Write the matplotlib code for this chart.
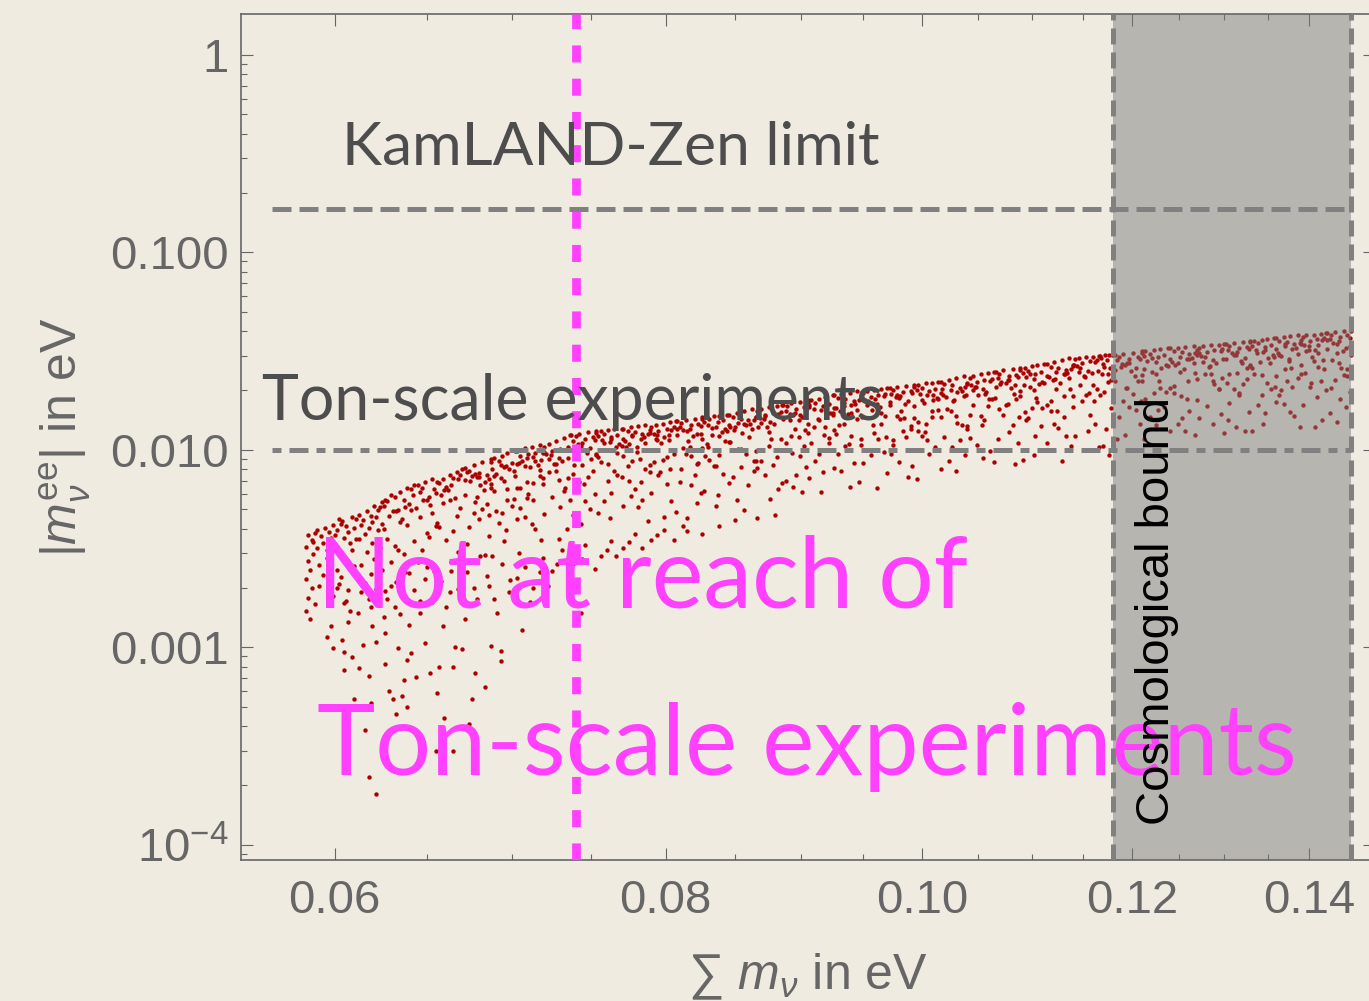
import matplotlib
matplotlib.use("Agg")
import matplotlib.pyplot as plt
from matplotlib.ticker import FixedLocator, NullFormatter, LogLocator

plt.rcParams['font.family'] = ['Liberation Sans', 'DejaVu Sans']
plt.rcParams['mathtext.fontset'] = 'custom'
plt.rcParams['mathtext.rm'] = 'Liberation Sans'
plt.rcParams['mathtext.it'] = 'Liberation Sans:italic'
plt.rcParams['mathtext.bf'] = 'Liberation Sans:bold'

# scan points: sum of neutrino masses (eV) and |m_ee| (eV), one line per strip in sum
sum_left = [
    .0586, .0591, .0588, .0595, .0585, .0593, .0597, .0589, .0586, .0594, .0590, .0596, .0587, .0592, .0585, .0598, .0588, .0594, .0586, .0590, .0585, .0587, .0592, .0596, .0589, .0591,
    .0599, .0604, .0601, .0609, .0606, .0600, .0611, .0603, .0607, .0610, .0602, .0605, .0608, .0600, .0611, .0604, .0606, .0609, .0601, .0603, .0610, .0607, .0599, .0605, .0602, .0608,
    .0613, .0617, .0621, .0625, .0615, .0619, .0623, .0614, .0620, .0624, .0618, .0622, .0616, .0625, .0613, .0620, .0623, .0617, .0621, .0614, .0624, .0619, .0616, .0622, .0618, .0625,
    .0628, .0632, .0635, .0639, .0626, .0637, .0630, .0634, .0640, .0627, .0633, .0638, .0629, .0636, .0631, .0639, .0626, .0635, .0628, .0632, .0637, .0630, .0634, .0640, .0633, .0627,
    .0641, .0645, .0649, .0653, .0655, .0647, .0643, .0651, .0646, .0654, .0650, .0642, .0652, .0644, .0648, .0653, .0646, .0641, .0655, .0650, .0643, .0647, .0651, .0645, .0654, .0649,
    .0659, .0663, .0667, .0670, .0657, .0665, .0669, .0661, .0656, .0668, .0660, .0664, .0658, .0666, .0662, .0659, .0669, .0663, .0667, .0656, .0665, .0661, .0657, .0668, .0670, .0664,
    .0672, .0677, .0682, .0687, .0674, .0680, .0685, .0673, .0679, .0686, .0678, .0684, .0676, .0681, .0687, .0672, .0679, .0685, .0677, .0682, .0674, .0680, .0686, .0673, .0684, .0678,
    .0689, .0694, .0697, .0702, .0687, .0700, .0692, .0696, .0703, .0688, .0695, .0701, .0690, .0698, .0693, .0702, .0687, .0697, .0689, .0694, .0700, .0692, .0696, .0703, .0695, .0688,
    .0703, .0708, .0712, .0717, .0719, .0710, .0705, .0714, .0709, .0718, .0713, .0704, .0716, .0706, .0711, .0717, .0709, .0703, .0719, .0713, .0705, .0710, .0714, .0708, .0718, .0712,
    .0723, .0727, .0732, .0736, .0720, .0730, .0735, .0725, .0719, .0734, .0724, .0729, .0721, .0731, .0726, .0723, .0735, .0727, .0732, .0719, .0730, .0725, .0720, .0734, .0736, .0729,
    .0737, .0742, .0748, .0753, .0740, .0746, .0751, .0738, .0744, .0752, .0743, .0749, .0741, .0747, .0753, .0737, .0744, .0751, .0742, .0748, .0740, .0746, .0752, .0738, .0749, .0743,
    .0756, .0761, .0765, .0770, .0753, .0767, .0758, .0763, .0771, .0754, .0762, .0768, .0757, .0766, .0759, .0770, .0753, .0765, .0756, .0761, .0767, .0758, .0763, .0771, .0762, .0754,
    .0771, .0776, .0781, .0786, .0789, .0779, .0774, .0784, .0777, .0788, .0783, .0772, .0785, .0775, .0780, .0786, .0777, .0771, .0789, .0783, .0774, .0779, .0784, .0776, .0788, .0781,
]
mee_left = [
    .00371, .00392, .00350, .00401, .00322, .00366, .00385, .00298, .00275, .00337, .00381, .00312, .00248, .00260, .00222, .00358, .00199, .00232, .00178, .00166, .00152, .00139, .00205, .00285, .00343, .00318,
    .00415, .00436, .00392, .00458, .00410, .00372, .00445, .00421, .00385, .00402, .00447, .00360, .00339, .00318, .00352, .00296, .00270, .00312, .00247, .00226, .00259, .00195, .00183, .00167, .00209, .00152,
    .00468, .00489, .00521, .00548, .00440, .00462, .00497, .00417, .00430, .00512, .00401, .00455, .00376, .00420, .00352, .00338, .00391, .00305, .00281, .00262, .00320, .00236, .00212, .00197, .00176, .00248,
    .00553, .00578, .00612, .00641, .00521, .00560, .00590, .00496, .00530, .00558, .00488, .00512, .00462, .00447, .00490, .00418, .00397, .00430, .00352, .00325, .00298, .00270, .00312, .00238, .00215, .00194,
    .00637, .00662, .00689, .00712, .00605, .00641, .00665, .00580, .00612, .00635, .00558, .00590, .00527, .00510, .00560, .00482, .00455, .00495, .00410, .00378, .00345, .00312, .00362, .00272, .00245, .00221,
    .00716, .00745, .00772, .00802, .00681, .00720, .00748, .00652, .00690, .00715, .00628, .00662, .00592, .00572, .00630, .00541, .00510, .00555, .00462, .00425, .00388, .00351, .00405, .00305, .00272, .00243,
    .00810, .00840, .00872, .00902, .00785, .00763, .00748, .00774, .00726, .00712, .00755, .00690, .00736, .00668, .00642, .00701, .00575, .00535, .00478, .00502, .00405, .00446, .00365, .00332, .00292, .00275,
    .00905, .00935, .00962, .00990, .00872, .00858, .00880, .00831, .00846, .00805, .00817, .00779, .00752, .00796, .00724, .00741, .00673, .00555, .00619, .00482, .00519, .00428, .00391, .00446, .00346, .00291,
    .00992, .0102, .0104, .0106, .00975, .00948, .00931, .00962, .00905, .00889, .00918, .00860, .00842, .00876, .00815, .00787, .00690, .00640, .00720, .00560, .00510, .00600, .00400, .00460, .00350, .00420,
    .0107, .0111, .0115, .0119, .0104, .0101, .0103, .00985, .00962, .00997, .00938, .00912, .00955, .00880, .00851, .00896, .00717, .00781, .00621, .00674, .00514, .00578, .00471, .00396, .00556, .00353,
    .0119, .0121, .0123, .0125, .0117, .0114, .0116, .0111, .0108, .0112, .0105, .0102, .0107, .00985, .00951, .00998, .00840, .00780, .00684, .00732, .00624, .00552, .00600, .00468, .00504, .00420,
    .0125, .0126, .0127, .0128, .0122, .0119, .0121, .0116, .0113, .0117, .0110, .0107, .0112, .0104, .0100, .0105, .00945, .00781, .00869, .00693, .00743, .00554, .00605, .00517, .00454, .00479,
    .0128, .0130, .0132, .0134, .0126, .0123, .0125, .0120, .0117, .0121, .0114, .0111, .0116, .0107, .0103, .0109, .00877, .00929, .00774, .00684, .00826, .00632, .00555, .00581, .00439, .00516,
]

sum_mid = [
    .0793, .0798, .0803, .0807, .0790, .0801, .0806, .0795, .0789, .0804, .0794, .0799, .0792, .0802, .0797, .0793, .0806, .0798, .0803, .0789, .0801, .0795, .0790, .0804, .0807, .0799,
    .0808, .0814, .0821, .0826, .0811, .0818, .0823, .0810, .0817, .0825, .0815, .0822, .0812, .0819, .0826, .0808, .0817, .0823, .0814, .0821, .0811, .0818, .0825, .0810, .0822, .0815,
    .0829, .0834, .0838, .0844, .0826, .0841, .0831, .0837, .0845, .0827, .0836, .0842, .0830, .0840, .0833, .0844, .0826, .0838, .0829, .0834, .0841, .0831, .0837, .0845, .0836, .0827,
    .0845, .0851, .0856, .0862, .0865, .0854, .0848, .0859, .0852, .0864, .0858, .0846, .0861, .0849, .0855, .0862, .0852, .0845, .0865, .0858, .0848, .0854, .0859, .0851, .0864, .0856,
    .0869, .0875, .0881, .0885, .0866, .0878, .0884, .0872, .0865, .0882, .0871, .0876, .0868, .0879, .0874, .0869, .0884, .0875, .0881, .0865, .0878, .0872, .0866, .0882, .0885, .0876,
    .0886, .0892, .0899, .0905, .0889, .0896, .0902, .0888, .0895, .0904, .0894, .0901, .0891, .0898, .0905, .0886, .0895, .0902, .0892, .0899, .0889, .0896, .0904, .0888, .0901, .0894,
    .0908, .0914, .0919, .0925, .0905, .0922, .0911, .0917, .0926, .0906, .0916, .0923, .0910, .0920, .0913, .0925, .0905, .0919, .0908, .0914, .0922, .0911, .0917, .0926, .0916, .0906,
    .0926, .0932, .0939, .0945, .0948, .0935, .0929, .0942, .0934, .0946, .0940, .0928, .0943, .0931, .0937, .0945, .0934, .0926, .0948, .0940, .0929, .0935, .0942, .0932, .0946, .0939,
    .0953, .0959, .0965, .0970, .0950, .0962, .0968, .0956, .0948, .0967, .0954, .0961, .0951, .0964, .0957, .0953, .0968, .0959, .0965, .0948, .0962, .0956, .0950, .0967, .0970, .0961,
    .0972, .0978, .0986, .0993, .0975, .0983, .0990, .0973, .0981, .0991, .0980, .0988, .0977, .0985, .0993, .0972, .0981, .0990, .0978, .0986, .0975, .0983, .0991, .0973, .0988, .0980,
    .0996, .1003, .1008, .1014, .0993, .1011, .1000, .1006, .1016, .0995, .1004, .1013, .0998, .1009, .1001, .1014, .0993, .1008, .0996, .1003, .1011, .1000, .1006, .1016, .1004, .0995,
    .1016, .1023, .1030, .1037, .1040, .1026, .1019, .1033, .1025, .1038, .1031, .1018, .1035, .1021, .1028, .1037, .1025, .1016, .1040, .1031, .1019, .1026, .1033, .1023, .1038, .1030,
    .1045, .1052, .1059, .1064, .1042, .1055, .1062, .1049, .1040, .1061, .1047, .1054, .1043, .1057, .1050, .1045, .1062, .1052, .1059, .1040, .1055, .1049, .1042, .1061, .1064, .1054,
    .1066, .1073, .1082, .1089, .1069, .1078, .1085, .1068, .1077, .1087, .1075, .1084, .1071, .1080, .1089, .1066, .1077, .1085, .1073, .1082, .1069, .1078, .1087, .1068, .1084, .1075,
    .1093, .1100, .1105, .1112, .1089, .1109, .1096, .1103, .1114, .1091, .1102, .1110, .1094, .1107, .1098, .1112, .1089, .1105, .1093, .1100, .1109, .1096, .1103, .1114, .1102, .1091,
    .1114, .1121, .1129, .1136, .1140, .1125, .1118, .1133, .1123, .1138, .1131, .1116, .1134, .1120, .1127, .1136, .1123, .1114, .1140, .1131, .1118, .1125, .1133, .1121, .1138, .1129,
    .1146, .1153, .1160, .1166, .1142, .1157, .1164, .1149, .1140, .1162, .1147, .1155, .1144, .1159, .1151, .1146, .1164, .1153, .1160, .1140, .1157, .1149, .1142, .1162, .1166, .1155,
    .1167, .1172, .1176, .1179, .1168, .1174, .1170, .1177, .1169, .1175, .1171, .1178, .1173, .1170, .1176,
]
mee_mid = [
    .0134, .0136, .0138, .0140, .0131, .0128, .0130, .0125, .0122, .0126, .0119, .0116, .0121, .0112, .0108, .0114, .00959, .00891, .00797, .00837, .00675, .00743, .00608, .00554, .00486, .00459,
    .0140, .0142, .0144, .0147, .0137, .0134, .0136, .0131, .0127, .0132, .0124, .0121, .0126, .0117, .0113, .0119, .0104, .00860, .00959, .00747, .00804, .00663, .00606, .00691, .00536, .00451,
    .0147, .0148, .0149, .0150, .0144, .0141, .0143, .0138, .0134, .0139, .0131, .0127, .0133, .0123, .0119, .0125, .0102, .00947, .0107, .00829, .00755, .00888, .00592, .00681, .00518, .00622,
    .0150, .0154, .0157, .0161, .0147, .0144, .0146, .0141, .0137, .0142, .0134, .0130, .0136, .0126, .0122, .0128, .0101, .0110, .00876, .00951, .00725, .00815, .00664, .00559, .00785, .00498,
    .0161, .0164, .0166, .0169, .0158, .0154, .0156, .0151, .0147, .0152, .0143, .0139, .0145, .0135, .0130, .0137, .0113, .0105, .00923, .00988, .00842, .00745, .00810, .00632, .00680, .00567,
    .0169, .0172, .0175, .0179, .0166, .0162, .0164, .0158, .0154, .0160, .0150, .0146, .0152, .0141, .0136, .0143, .0128, .0105, .0117, .00935, .0100, .00748, .00816, .00697, .00612, .00646,
    .0179, .0182, .0186, .0189, .0175, .0171, .0173, .0167, .0163, .0169, .0159, .0154, .0161, .0149, .0144, .0151, .0122, .0130, .0108, .00954, .0115, .00882, .00774, .00810, .00612, .00720,
    .0189, .0192, .0195, .0198, .0185, .0181, .0183, .0177, .0172, .0178, .0168, .0163, .0170, .0157, .0152, .0160, .0136, .0126, .0113, .0118, .00955, .0105, .00860, .00783, .00688, .00649,
    .0198, .0200, .0203, .0205, .0194, .0189, .0192, .0185, .0180, .0187, .0176, .0171, .0178, .0165, .0160, .0168, .0148, .0122, .0136, .0106, .0114, .00940, .00860, .00980, .00760, .00640,
    .0205, .0208, .0211, .0214, .0201, .0196, .0199, .0192, .0187, .0194, .0183, .0177, .0185, .0171, .0166, .0174, .0143, .0132, .0149, .0116, .0106, .0124, .00828, .00952, .00725, .00869,
    .0214, .0217, .0219, .0222, .0209, .0204, .0207, .0199, .0194, .0201, .0189, .0184, .0192, .0178, .0172, .0180, .0145, .0158, .0125, .0136, .0104, .0117, .00950, .00799, .0112, .00713,
    .0222, .0227, .0232, .0237, .0217, .0212, .0215, .0207, .0202, .0209, .0196, .0190, .0199, .0185, .0178, .0187, .0157, .0146, .0128, .0137, .0116, .0103, .0112, .00874, .00941, .00784,
    .0238, .0242, .0245, .0248, .0232, .0226, .0229, .0221, .0215, .0223, .0209, .0203, .0212, .0197, .0190, .0200, .0180, .0149, .0166, .0132, .0142, .0106, .0115, .00984, .00864, .00912,
    .0249, .0253, .0257, .0261, .0243, .0237, .0240, .0231, .0225, .0234, .0219, .0212, .0222, .0206, .0199, .0209, .0171, .0181, .0151, .0133, .0161, .0123, .0108, .0113, .00853, .0100,
    .0261, .0265, .0269, .0273, .0255, .0249, .0252, .0243, .0236, .0245, .0229, .0222, .0233, .0216, .0208, .0219, .0187, .0174, .0155, .0163, .0132, .0145, .0118, .0108, .00947, .00894,
    .0273, .0280, .0286, .0292, .0267, .0261, .0264, .0255, .0248, .0257, .0241, .0233, .0245, .0227, .0218, .0230, .0204, .0168, .0187, .0146, .0157, .0129, .0118, .0135, .0105, .00880,
    .0292, .0295, .0297, .0299, .0288, .0281, .0285, .0275, .0268, .0278, .0261, .0252, .0265, .0245, .0236, .0249, .0204, .0189, .0212, .0165, .0150, .0177, .0118, .0136, .0103, .0124,
    .0299, .0301, .0303, .0304, .0291, .0284, .0272, .0259, .0243, .0222, .0196, .0163, .0128, .0105, .00940,
]

# points inside the cosmologically excluded strip
sum_grey = [
    .1182, .1191, .1201, .1210, .1186, .1197, .1206, .1184, .1195, .1208, .1193, .1204, .1189, .1199, .1210, .1182, .1195, .1206, .1191, .1201, .1186, .1197, .1208, .1184, .1204, .1193,
    .1214, .1223, .1229, .1238, .1210, .1234, .1219, .1227, .1240, .1212, .1225, .1236, .1216, .1231, .1221, .1238, .1210, .1229, .1214, .1223, .1234, .1219, .1227, .1240, .1225, .1212,
    .1240, .1249, .1257, .1266, .1270, .1253, .1244, .1261, .1251, .1268, .1259, .1242, .1264, .1246, .1255, .1266, .1251, .1240, .1270, .1259, .1244, .1253, .1261, .1249, .1268, .1257,
    .1276, .1285, .1294, .1300, .1272, .1289, .1298, .1281, .1270, .1296, .1279, .1287, .1274, .1291, .1283, .1276, .1298, .1285, .1294, .1270, .1289, .1281, .1272, .1296, .1300, .1287,
    .1302, .1311, .1321, .1330, .1306, .1317, .1326, .1304, .1315, .1328, .1313, .1324, .1309, .1319, .1330, .1302, .1315, .1326, .1311, .1321, .1306, .1317, .1328, .1304, .1324, .1313,
    .1334, .1343, .1349, .1358, .1330, .1354, .1339, .1347, .1360, .1332, .1345, .1356, .1336, .1351, .1341, .1358, .1330, .1349, .1334, .1343, .1354, .1339, .1347, .1360, .1345, .1332,
    .1360, .1369, .1377, .1386, .1390, .1373, .1364, .1381, .1371, .1388, .1379, .1362, .1384, .1366, .1375, .1386, .1371, .1360, .1390, .1379, .1364, .1373, .1381, .1369, .1388, .1377,
    .1396, .1405, .1414, .1420, .1392, .1409, .1418, .1401, .1390, .1416, .1399, .1407, .1394, .1411, .1403, .1396, .1418, .1405, .1414, .1390, .1409, .1401, .1392, .1416, .1420, .1407,
    .1422, .1431, .1443, .1452, .1427, .1438, .1447, .1425, .1436, .1450, .1434, .1445, .1429, .1441, .1452, .1422, .1436, .1447, .1431, .1443, .1427, .1438, .1450, .1425, .1445, .1434,
]
mee_grey = [
    .0303, .0307, .0311, .0315, .0297, .0290, .0294, .0284, .0276, .0287, .0268, .0259, .0272, .0250, .0240, .0255, .0205, .0223, .0177, .0193, .0147, .0165, .0135, .0113, .0159, .0119,
    .0315, .0319, .0323, .0327, .0309, .0302, .0306, .0295, .0287, .0298, .0278, .0269, .0283, .0260, .0249, .0265, .0223, .0207, .0181, .0194, .0165, .0146, .0159, .0124, .0134, .0114,
    .0327, .0330, .0332, .0335, .0320, .0313, .0317, .0306, .0297, .0309, .0288, .0278, .0293, .0269, .0258, .0274, .0248, .0205, .0228, .0182, .0195, .0145, .0158, .0135, .0119, .0125,
    .0335, .0338, .0340, .0343, .0328, .0320, .0324, .0313, .0304, .0316, .0295, .0284, .0300, .0275, .0263, .0280, .0230, .0243, .0203, .0179, .0216, .0166, .0145, .0152, .0122, .0135,
    .0343, .0347, .0351, .0355, .0337, .0329, .0333, .0321, .0312, .0325, .0303, .0292, .0308, .0282, .0270, .0287, .0246, .0228, .0204, .0215, .0173, .0190, .0156, .0142, .0125, .0131,
    .0355, .0360, .0364, .0369, .0350, .0341, .0346, .0333, .0323, .0337, .0313, .0302, .0319, .0291, .0279, .0297, .0265, .0218, .0243, .0190, .0204, .0168, .0154, .0175, .0136, .0125,
    .0369, .0373, .0377, .0381, .0362, .0353, .0358, .0344, .0334, .0348, .0323, .0311, .0329, .0300, .0287, .0306, .0257, .0238, .0268, .0208, .0190, .0223, .0149, .0171, .0130, .0156,
    .0381, .0384, .0387, .0390, .0374, .0365, .0370, .0356, .0345, .0360, .0334, .0321, .0340, .0310, .0296, .0316, .0258, .0281, .0223, .0243, .0185, .0208, .0169, .0142, .0200, .0131,
    .0390, .0394, .0398, .0402, .0384, .0375, .0380, .0366, .0355, .0370, .0343, .0330, .0349, .0318, .0304, .0324, .0276, .0256, .0225, .0240, .0205, .0181, .0197, .0154, .0165, .0138,
]

# extra points filling the middle of the band
sum_fill = [
    .0675, .0683, .0678, .0686, .0672, .0680,
    .0689, .0697, .0693, .0701, .0695, .0690,
    .0714, .0705, .0717, .0709, .0708, .0713,
    .0727, .0720, .0733, .0723, .0729, .0735,
    .0750, .0742, .0738, .0747, .0745, .0739,
    .0758, .0767, .0761, .0770, .0754, .0763,
    .0773, .0782, .0777, .0786, .0780, .0775,
    .0802, .0792, .0805, .0796, .0794, .0801,
    .0816, .0808, .0822, .0812, .0818, .0825,
    .0842, .0833, .0828, .0838, .0836, .0830,
    .0850, .0860, .0854, .0864, .0846, .0856,
    .0867, .0877, .0872, .0882, .0875, .0869,
    .0899, .0888, .0903, .0893, .0891, .0898,
    .0914, .0906, .0922, .0910, .0918, .0925,
    .0945, .0934, .0928, .0940, .0938, .0930,
    .0954, .0965, .0958, .0969, .0949, .0960,
    .0972, .0984, .0978, .0990, .0982, .0975,
    .1009, .0996, .1014, .1002, .1000, .1008,
    .1027, .1017, .1035, .1022, .1030, .1039,
    .1060, .1048, .1042, .1056, .1053, .1045,
    .1070, .1083, .1075, .1088, .1065, .1078,
    .1092, .1104, .1098, .1110, .1102, .1094,
    .1132, .1118, .1137, .1124, .1122, .1131,
    .1152, .1141, .1161, .1147, .1156, .1165,
    .1178, .1171, .1167, .1175,
    .1188, .1203, .1194, .1209, .1182, .1197,
    .1213, .1228, .1221, .1236, .1225, .1216,
    .1261, .1245, .1267, .1252, .1249, .1260,
    .1284, .1272, .1294, .1278, .1288, .1299,
    .1326, .1311, .1303, .1320, .1317, .1306,
    .1338, .1353, .1344, .1359, .1332, .1347,
    .1363, .1378, .1371, .1386, .1375, .1366,
    .1411, .1395, .1417, .1402, .1399, .1410,
    .1434, .1422, .1446, .1428, .1439, .1450,
]
mee_fill = [
    .00697, .00624, .00543, .00470, .00591, .00729,
    .00737, .00637, .00837, .00564, .00692, .00491,
    .00880, .00640, .00740, .00570, .00830, .00680,
    .00845, .00974, .00642, .00770, .00706, .00910,
    .00900, .0104, .00756, .00960, .00672, .00840,
    .0108, .00970, .00844, .00731, .00920, .0113,
    .0104, .00903, .0119, .00800, .00980, .00697,
    .0119, .00864, .00999, .00770, .0112, .00918,
    .0111, .0128, .00846, .0102, .00931, .0120,
    .0111, .0129, .00932, .0118, .00829, .0104,
    .0130, .0116, .0101, .00876, .0110, .0136,
    .0131, .0113, .0149, .0100, .0123, .00875,
    .0150, .0109, .0126, .00969, .0141, .0116,
    .0142, .0164, .0108, .0130, .0119, .0153,
    .0143, .0166, .0120, .0153, .0107, .0134,
    .0172, .0154, .0134, .0116, .0146, .0180,
    .0168, .0145, .0190, .0128, .0157, .0112,
    .0190, .0138, .0160, .0123, .0179, .0147,
    .0177, .0204, .0134, .0161, .0148, .0190,
    .0180, .0209, .0151, .0192, .0134, .0168,
    .0216, .0193, .0168, .0146, .0183, .0226,
    .0213, .0184, .0242, .0163, .0200, .0142,
    .0242, .0176, .0204, .0157, .0228, .0187,
    .0233, .0268, .0177, .0212, .0195, .0251,
    .0227, .0263, .0190, .0242,
    .0263, .0236, .0205, .0177, .0223, .0275,
    .0258, .0223, .0293, .0197, .0242, .0172,
    .0290, .0211, .0244, .0188, .0274, .0224,
    .0267, .0308, .0203, .0243, .0223, .0287,
    .0260, .0301, .0218, .0277, .0194, .0242,
    .0308, .0276, .0240, .0208, .0261, .0322,
    .0301, .0260, .0342, .0231, .0283, .0201,
    .0339, .0246, .0285, .0219, .0320, .0262,
    .0311, .0359, .0236, .0284, .0260, .0335,
]

# sparse points below the main band, (sum, |m_ee|)
tail_points = [
    (0.0596, 0.00113), (0.0599, 0.00099), (0.0605, 0.00095), (0.0605, 0.00077), (0.0609, 0.00089),
    (0.0613, 0.00079), (0.0618, 0.00072), (0.0622, 0.00107), (0.0610, 0.00055), (0.0619, 0.00052),
    (0.0616, 0.00038), (0.0618, 0.00022), (0.0622, 0.00018), (0.0627, 0.00082), (0.0629, 0.00060),
    (0.0631, 0.00055), (0.0633, 0.00046), (0.0636, 0.00057), (0.0639, 0.00050), (0.0637, 0.00068),
    (0.0644, 0.00071), (0.0652, 0.00074), (0.0656, 0.00059), (0.0660, 0.00044), (0.0647, 0.00030),
    (0.0655, 0.00030), (0.0665, 0.00030), (0.0674, 0.00041), (0.0676, 0.00055), (0.0678, 0.00074),
    (0.0684, 0.00063), (0.0693, 0.00085), (0.0693, 0.00096), (0.0687, 0.00102), (0.0706, 0.00123),
    (0.0666, 0.00100), (0.0670, 0.00098), (0.0665, 0.00080), (0.0657, 0.00080), (0.0649, 0.00105),
    (0.0641, 0.00094), (0.0639, 0.00086), (0.0634, 0.00099), (0.0627, 0.00118), (0.0615, 0.00103),
    (0.0604, 0.00109), (0.0740, 0.00150), (0.0743, 0.00150),
    (0.0598, 0.00128), (0.0607, 0.00135), (0.0612, 0.00150), (0.0620, 0.00128), (0.0626, 0.00142),
    (0.0632, 0.00160), (0.0640, 0.00130), (0.0646, 0.00150), (0.0653, 0.00170), (0.0659, 0.00128),
    (0.0663, 0.00190), (0.0672, 0.00140), (0.0679, 0.00175), (0.0686, 0.00205), (0.0691, 0.00150),
    (0.0698, 0.00190), (0.0703, 0.00225), (0.0711, 0.00170), (0.0717, 0.00240), (0.0722, 0.00205),
    (0.0728, 0.00265), (0.0735, 0.00230), (0.0744, 0.00280), (0.0752, 0.00250), (0.0760, 0.00310),
    (0.0766, 0.00290), (0.0775, 0.00340), (0.0784, 0.00320), (0.0794, 0.00370), (0.0806, 0.00350),
    (0.0815, 0.00390), (0.0826, 0.00375), (0.0838, 0.00410), (0.0850, 0.00440), (0.0866, 0.00450),
    (0.0880, 0.00470),
    (0.0601, 0.00200), (0.0606, 0.00172), (0.0611, 0.00230), (0.0614, 0.00190), (0.0619, 0.00160),
    (0.0623, 0.00215), (0.0628, 0.00175), (0.0630, 0.00205), (0.0635, 0.00148), (0.0638, 0.00240),
    (0.0643, 0.00195), (0.0646, 0.00172), (0.0650, 0.00255), (0.0654, 0.00185), (0.0658, 0.00218),
    (0.0661, 0.00160), (0.0664, 0.00270), (0.0668, 0.00198), (0.0673, 0.00240), (0.0677, 0.00200),
    (0.0681, 0.00290), (0.0685, 0.00230), (0.0689, 0.00175), (0.0694, 0.00265), (0.0699, 0.00220),
    (0.0704, 0.00300), (0.0708, 0.00255), (0.0713, 0.00200), (0.0719, 0.00285), (0.0725, 0.00245),
    (0.0731, 0.00310), (0.0738, 0.00265), (0.0746, 0.00330), (0.0756, 0.00290), (0.0763, 0.00345),
    (0.0771, 0.00320), (0.0779, 0.00375), (0.0790, 0.00350), (0.0799, 0.00395), (0.0812, 0.00410),
]

# limits and reference values
kamland_limit = 0.165
ton_scale = 0.01
sum_low = 0.074
cosmo_bound = 0.118
cosmo_edge = 0.1452
hline_start = 0.0568

x_ticks = [0.06, 0.08, 0.10, 0.12, 0.14]
x_tick_labels = ['0.06', '0.08', '0.10', '0.12', '0.14']
x_minor = [0.065, 0.07, 0.075, 0.085, 0.09, 0.095, 0.105, 0.11, 0.115,
           0.125, 0.13, 0.135, 0.145]
y_ticks = [1e-4, 1e-3, 1e-2, 1e-1, 1]
y_tick_labels = [r'$10^{-4}$', '0.001', '0.010', '0.100', '1']

bg = '#efebe1'
grey_txt = '#4d4d4d'
axis_col = '#666666'
magenta = '#ff40ff'
line_grey = '#808080'

fig = plt.figure(figsize=(13.69, 10.01), dpi=100, facecolor=bg)
ax = fig.add_axes([0.1760, 0.1409, 0.8283, 0.8452])
ax.set_facecolor(bg)
ax.set_xscale('log')
ax.set_yscale('log')

xs = sum_left + sum_mid + sum_grey + sum_fill + [p[0] for p in tail_points]
ys = mee_left + mee_mid + mee_grey + mee_fill + [p[1] for p in tail_points]
ax.scatter(xs, ys, s=10, c='#aa0000', linewidths=0, zorder=1)

# excluded region from cosmology
ax.axvspan(cosmo_bound, cosmo_edge, color='#797979', alpha=0.47, lw=0, zorder=2)
for xv in (cosmo_bound, cosmo_edge):
    ax.axvline(xv, color=line_grey, lw=3.6, ls=(0, (3.2, 1.6)), zorder=3)

ax.hlines(kamland_limit, hline_start, cosmo_edge, color=line_grey, lw=3.6,
          linestyles=[(0, (3.8, 1.6))], zorder=3)
ax.hlines(ton_scale, hline_start, cosmo_edge, color=line_grey, lw=3.6,
          linestyles=[(0, (1.8, 1.6, 3.8, 1.6))], zorder=3)
ax.axvline(sum_low, color=magenta, lw=6.3, ls=(0, (1.95, 1.85)), zorder=3)

ax.text(0.0604, 0.277, 'KamLAND-Zen limit', family='Lato', fontsize=43.5,
        color=grey_txt, ha='left', va='baseline', zorder=4)
ax.text(0.0563, 0.0142, 'Ton-scale experiments', family='Lato', fontsize=45,
        color=grey_txt, ha='left', va='baseline', zorder=4)
ax.text(0.0591, 0.0016, 'Not at reach of', family='Lato', fontsize=70.5,
        color=magenta, ha='left', va='baseline', zorder=4)
ax.text(0.0591, 0.000226, 'Ton-scale experiments', family='Lato', fontsize=71,
        color=magenta, ha='left', va='baseline', zorder=4)
ax.text(0.1239, 0.000126, 'Cosmological bound', fontsize=34, color='black',
        rotation=90, rotation_mode='anchor', ha='left', va='baseline', zorder=5)

ax.set_xlim(0.0553, 0.1482)
ax.set_ylim(8.39e-5, 1.613)

ax.xaxis.set_major_locator(FixedLocator(x_ticks))
ax.set_xticklabels(x_tick_labels)
ax.xaxis.set_minor_locator(FixedLocator(x_minor))
ax.xaxis.set_minor_formatter(NullFormatter())
ax.yaxis.set_major_locator(FixedLocator(y_ticks))
ax.set_yticklabels(y_tick_labels)
ax.yaxis.set_minor_locator(LogLocator(base=10, subs=range(2, 10), numticks=20))
ax.yaxis.set_minor_formatter(NullFormatter())

ax.tick_params(which='both', direction='in', top=True, right=True,
               color=axis_col, labelcolor=axis_col, width=0.8)
ax.tick_params(which='major', length=8.5, labelsize=34, pad=9)
ax.tick_params(which='minor', length=4.5)
ax.tick_params(axis='x', which='major', pad=14)
for sp in ax.spines.values():
    sp.set_color(axis_col)
    sp.set_linewidth(1.2)

ax.set_xlabel('\u2211 $m_{\\nu}$ in eV', fontsize=36, color=axis_col, labelpad=20)
ax.set_ylabel(r'$|m_{\nu}^{\mathrm{ee}}|$ in eV', fontsize=36, color=axis_col, labelpad=12)

fig.savefig('out.png', dpi=100, facecolor=bg)
